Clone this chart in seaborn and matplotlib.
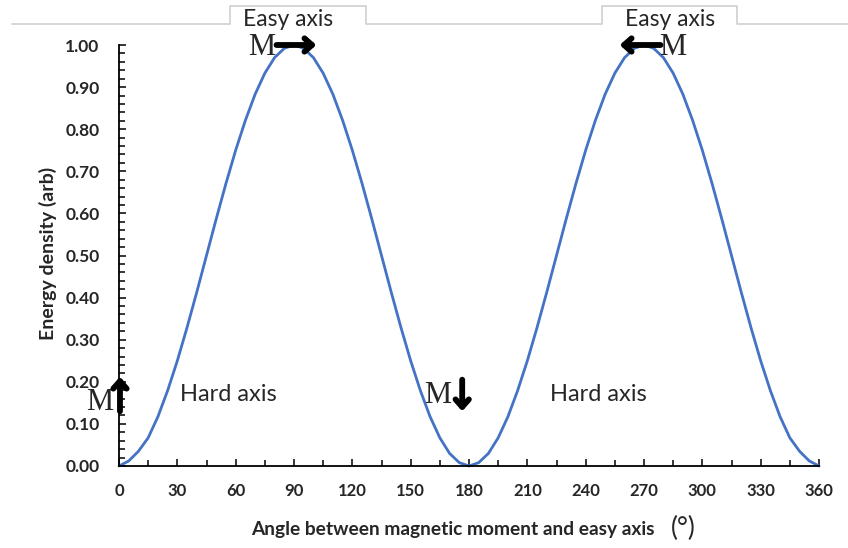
import numpy as np
import pandas as pd
import matplotlib
matplotlib.use("Agg")
import matplotlib.pyplot as plt
from matplotlib.lines import Line2D
from matplotlib.ticker import MultipleLocator
import seaborn as sns

# ---- data ----
angles = [0, 5, 10, 15, 20, 25, 30, 35, 40, 45, 50, 55, 60, 65, 70, 75, 80, 85, 90,
          95, 100, 105, 110, 115, 120, 125, 130, 135, 140, 145, 150, 155, 160, 165, 170, 175, 180,
          185, 190, 195, 200, 205, 210, 215, 220, 225, 230, 235, 240, 245, 250, 255, 260, 265, 270,
          275, 280, 285, 290, 295, 300, 305, 310, 315, 320, 325, 330, 335, 340, 345, 350, 355, 360]
energy = [0.000, 0.012, 0.035, 0.067, 0.117, 0.179, 0.250, 0.329, 0.413, 0.500, 0.587, 0.671,
          0.750, 0.821, 0.883, 0.933, 0.970, 0.992, 1.000,
          0.992, 0.970, 0.933, 0.883, 0.821, 0.750, 0.671, 0.587, 0.500, 0.413, 0.329, 0.250,
          0.179, 0.117, 0.067, 0.030, 0.008, 0.000,
          0.008, 0.030, 0.067, 0.117, 0.179, 0.250, 0.329, 0.413, 0.500, 0.587, 0.671,
          0.750, 0.821, 0.883, 0.933, 0.970, 0.992, 1.000,
          0.992, 0.970, 0.933, 0.883, 0.821, 0.750, 0.671, 0.587, 0.500, 0.413, 0.329, 0.250,
          0.179, 0.117, 0.067, 0.035, 0.012, 0.000]
x_ticks = [0, 30, 60, 90, 120, 150, 180, 210, 240, 270, 300, 330, 360]
y_ticks = [0.0, 0.1, 0.2, 0.3, 0.4, 0.5, 0.6, 0.7, 0.8, 0.9, 1.0]

sns.set_theme(style="white")
plt.rcParams['font.family'] = ['Lato', 'DejaVu Sans']

W, H = 848, 548
fig = plt.figure(figsize=(W / 100, H / 100), dpi=100)
ax = fig.add_axes([119 / W, 1 - 466 / H, (819 - 119) / W, (466 - 45) / H])

df = pd.DataFrame({"angle": angles, "energy": energy})
sns.lineplot(data=df, x="angle", y="energy", ax=ax, color="#4472C4", linewidth=2, clip_on=False)

ax.set_xlim(0, 360)
ax.set_ylim(0, 1)
ax.set_xticks(x_ticks)
ax.set_xticklabels([str(v) for v in x_ticks], fontweight='bold', fontsize=12)
ax.set_yticks(y_ticks)
ax.set_yticklabels([f"{v:.2f}" for v in y_ticks], fontweight='bold', fontsize=12.5)
ax.xaxis.set_minor_locator(MultipleLocator(15))
ax.yaxis.set_minor_locator(MultipleLocator(0.02))
for s in ["top", "right"]:
    ax.spines[s].set_visible(False)
for s in ["left", "bottom"]:
    ax.spines[s].set_color("black")
    ax.spines[s].set_linewidth(1.3)
ax.tick_params(axis='both', which='both', direction='in', color='black', width=1.1,
               bottom=True, left=True, top=False, right=False)
ax.tick_params(axis='both', which='major', length=5)
ax.tick_params(axis='both', which='minor', length=4)
ax.tick_params(axis='x', which='major', pad=12)
ax.tick_params(axis='y', which='major', pad=14)
ax.set_xlabel("")
ax.set_ylabel("")
ax.grid(False)

# axis labels
fig.text(453 / W, 1 - 529 / H, "Angle between magnetic moment and easy axis",
         ha='center', va='center', fontsize=13.8, fontweight='bold')
fig.text(683 / W, 1 - 528 / H, "(°)", ha='center', va='center', fontsize=19)
fig.text(48 / W, 1 - 253 / H, "Energy density (arb)", ha='center', va='center',
         rotation=90, fontsize=14, fontweight='bold')

# top frame line with tabs
px = [12, 230, 230, 366, 366, 602, 602, 737, 737, 848]
py = [24, 24, 6, 6, 24, 24, 6, 6, 24, 24]
fig.add_artist(Line2D([p / W for p in px], [1 - p / H for p in py],
                      transform=fig.transFigure, color="#cfcfcf", linewidth=1.2))
fig.text(288 / W, 1 - 26 / H, "Easy axis", ha='center', va='baseline', fontsize=16.5)
fig.text(670 / W, 1 - 26 / H, "Easy axis", ha='center', va='baseline', fontsize=16.5)

# annotations
serif = dict(family='Liberation Serif', fontsize=22)
arrow = dict(arrowstyle='->,head_length=0.45,head_width=0.4', color='black', lw=4.2,
             shrinkA=0, shrinkB=0)
ax.text(73.5, 0.995, "M", ha='center', va='center', clip_on=False, **serif)
ax.annotate("", xy=(101.5, 1.0), xytext=(81, 1.0), arrowprops=arrow, annotation_clip=False)
ax.text(285, 0.995, "M", ha='center', va='center', clip_on=False, **serif)
ax.annotate("", xy=(257.5, 1.0), xytext=(278.5, 1.0), arrowprops=arrow, annotation_clip=False)
ax.text(-9.8, 0.152, "M", ha='center', va='center', clip_on=False, **serif)
ax.annotate("", xy=(0.5, 0.212), xytext=(0.5, 0.13), arrowprops=arrow, annotation_clip=False)
ax.text(164, 0.168, "M", ha='center', va='center', clip_on=False, **serif)
ax.annotate("", xy=(176.5, 0.13), xytext=(176.5, 0.205), arrowprops=arrow, annotation_clip=False)

ax.text(56, 0.171, "Hard axis", ha='center', va='center', fontsize=17)
ax.text(246.5, 0.171, "Hard axis", ha='center', va='center', fontsize=17)

fig.savefig("out.png", dpi=100, facecolor='white')
